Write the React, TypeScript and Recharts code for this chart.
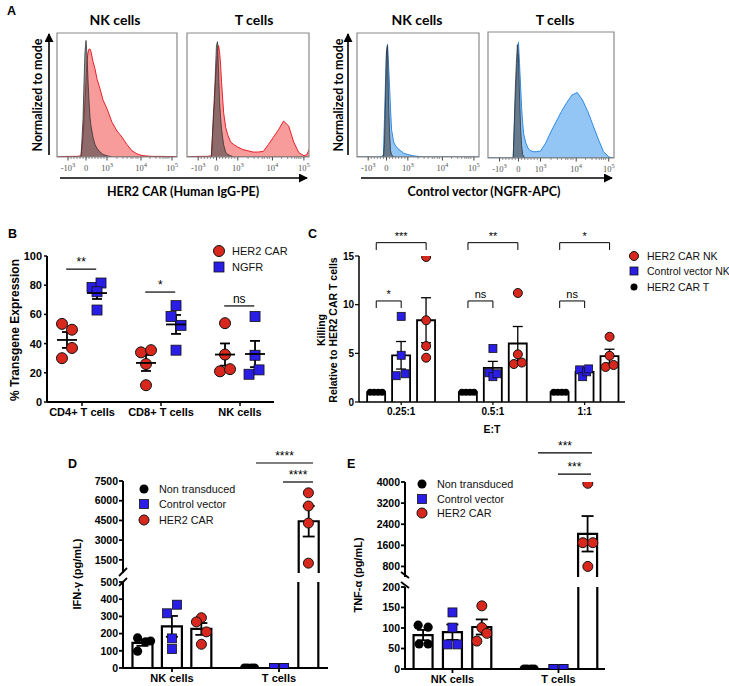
import React from "react";
import {
  AreaChart,
  Area,
  XAxis,
  YAxis,
  ReferenceArea,
  ScatterChart,
  Scatter,
  ErrorBar,
  ComposedChart,
  Bar,
  ReferenceLine,
  Legend,
} from "recharts";

const FONT = "'Liberation Sans', Arial, Helvetica, sans-serif";
const FONT_A = "Lato, 'Open Sans', 'Liberation Sans', sans-serif";
const SERIF = "'Liberation Serif', 'DejaVu Serif', serif";
const RED = "#d8281d";
const BLUE = "#2a1ee6";
const RED_FILL = "#f79b9b";
const RED_LINE = "#e8202a";
const BLUE_FILL = "#93c5f5";
const BLUE_LINE = "#2d8ae5";

// ---------------- Panel A (flow histograms) ----------------
const flowChannels = [0, 10, 20, 24, 26, 27, 28, 29, 30, 31, 32, 33, 34, 36, 38, 40, 43, 46, 50, 55, 60, 65, 70, 75, 80, 85, 90, 95, 100, 105, 110, 115, 118, 120];
const flowMajorTicks = [11, 29, 50, 84, 115];
const flowTickLabels = ["-10^3", "0", "10^3", "10^4", "10^5"];
const flowMinorTicks = [14, 17, 20, 23, 26, 32, 35, 38, 41, 44, 47, 60, 66, 70, 74, 76, 79, 81, 93, 99, 103, 106, 108, 110, 112];

const her2NkIsotype = [0, 0, 0, 0, 0.3, 0.6, 0.85, 0.94, 0.82, 0.62, 0.45, 0.32, 0.25, 0.16, 0.1, 0.07, 0.04, 0.02, 0.01, 0, 0, 0, 0, 0, 0, 0, 0, 0, 0, 0, 0, 0, 0, 0];
const her2NkStained = [0, 0.005, 0.005, 0.01, 0.15, 0.3, 0.45, 0.6, 0.78, 0.84, 0.87, 0.87, 0.85, 0.77, 0.71, 0.63, 0.55, 0.46, 0.39, 0.28, 0.21, 0.16, 0.1, 0.05, 0.025, 0.012, 0.008, 0.005, 0.005, 0.005, 0.004, 0.004, 0.003, 0.003];
const her2TIsotype = [0, 0, 0, 0, 0.35, 0.45, 0.7, 0.9, 0.93, 0.7, 0.45, 0.32, 0.22, 0.1, 0.04, 0.02, 0.01, 0, 0, 0, 0, 0, 0, 0, 0, 0, 0, 0, 0, 0, 0, 0, 0, 0];
const her2TStained = [0, 0.005, 0.005, 0.01, 0.3, 0.5, 0.62, 0.72, 0.85, 0.9, 0.85, 0.75, 0.6, 0.36, 0.24, 0.18, 0.12, 0.1, 0.08, 0.06, 0.05, 0.04, 0.04, 0.045, 0.1, 0.16, 0.22, 0.29, 0.25, 0.12, 0.035, 0.01, 0.02, 0.06];
const ngfrNkIsotype = [0, 0, 0, 0, 0, 0.1, 0.45, 0.85, 0.9, 0.45, 0.2, 0.05, 0.02, 0, 0, 0, 0, 0, 0, 0, 0, 0, 0, 0, 0, 0, 0, 0, 0, 0, 0, 0, 0, 0];
const ngfrNkStained = [0, 0, 0, 0, 0.02, 0.3, 0.6, 0.85, 0.91, 0.75, 0.58, 0.38, 0.22, 0.12, 0.09, 0.07, 0.05, 0.03, 0.02, 0.01, 0.005, 0, 0, 0, 0, 0, 0, 0, 0, 0, 0, 0, 0, 0];
const ngfrTIsotype = [0, 0, 0, 0, 0.55, 0.75, 0.9, 0.8, 0.5, 0.25, 0.1, 0.03, 0.01, 0, 0, 0, 0, 0, 0, 0, 0, 0, 0, 0, 0, 0, 0, 0, 0, 0, 0, 0, 0, 0];
const ngfrTStained = [0, 0, 0, 0, 0.45, 0.62, 0.8, 0.92, 0.75, 0.58, 0.4, 0.28, 0.19, 0.12, 0.08, 0.06, 0.05, 0.05, 0.055, 0.12, 0.21, 0.29, 0.37, 0.44, 0.5, 0.52, 0.46, 0.37, 0.26, 0.15, 0.05, 0.01, 0, 0];

// ---------------- Panel B ----------------
const bCellTypes = ["CD4+ T cells", "CD8+ T cells", "NK cells"];
const bHer2Car = [[53.5, 49.5, 37, 30], [34, 35.5, 26, 11.5], [54, 32.5, 21, 22.5]];
const bNgfr = [[78.5, 81.5, 75.5, 63], [58.5, 66, 52.5, 35.5], [58.5, 32, 19, 22]];
const bSignif = ["**", "*", "ns"];

// ---------------- Panel C ----------------
const cRatios = ["0.25:1", "0.5:1", "1:1"];
const cHer2CarT = [[1, 1, 1, 1], [1, 1, 1, 1], [1, 1, 1, 1]];
const cControlNk = [[8.8, 4.8, 2.7, 2.9], [5.5, 3.0, 2.6, 2.9], [3.3, 2.6, 3.1, 3.4]];
const cHer2CarNk = [[14.9, 8.4, 5.75, 4.55], [11.2, 4.9, 3.9, 4.05], [6.7, 4.75, 3.6, 3.8]];
const cSignifTop = ["***", "**", "*"];
const cSignifLow = ["*", "ns", "ns"];

// ---------------- Panel D (IFN-gamma) ----------------
const dGroups = ["NK cells", "T cells"];
const dNonTransduced = [[175, 152, 157, 98], [0, 0, 0, 0]];
const dControlVector = [[368, 318, 172, 110], [0, 0, 0, 0]];
const dHer2Car = [[292, 268, 210, 138], [6600, 5600, 4300, 1250]];
const dSignif = ["****", "****"];

// ---------------- Panel E (TNF-alpha) ----------------
const eGroups = ["NK cells", "T cells"];
const eNonTransduced = [[107, 102, 61, 61], [0, 0, 0, 0]];
const eControlVector = [[138, 101, 60, 60], [0, 0, 0, 0]];
const eHer2Car = [[154, 101, 87, 68], [3950, 1700, 1700, 800]];
const eSignif = ["***", "***"];

// ---------------- helpers ----------------
const mean = (a: number[]) => a.reduce((s, v) => s + v, 0) / a.length;
const sem = (a: number[]) => {
  const m = mean(a);
  const sd = Math.sqrt(a.reduce((s, v) => s + (v - m) * (v - m), 0) / (a.length - 1));
  return sd / Math.sqrt(a.length);
};

const redCircle = (r: number) => (p: any) =>
  p.cx == null ? <g /> : <circle cx={p.cx} cy={p.cy} r={r} fill={RED} stroke="#111" strokeWidth={1} />;
const blueSquare = (s: number) => (p: any) =>
  p.cx == null ? <g /> : <rect x={p.cx - s / 2} y={p.cy - s / 2} width={s} height={s} fill={BLUE} stroke="#111" strokeWidth={0.8} />;
const blackDot = (r: number) => (p: any) =>
  p.cx == null ? <g /> : <circle cx={p.cx} cy={p.cy} r={r} fill="#000" />;

// open (white) bar of a fixed pixel width, centred on the band the library computes
const openBar = (sw: number, bw: number) => (p: any) => {
  const { x, y, width, height, background } = p;
  if (x == null || y == null || !height || Math.abs(height) < 0.5) return <g />;
  const cx = x + (width || 0) / 2;
  const x0 = cx - bw / 2;
  const x1 = cx + bw / 2;
  const top = Math.min(y, y + height);
  const bottom = Math.max(y, y + height);
  const clipTop = background && background.y != null ? background.y : -1e9;
  const clipped = top < clipTop - 0.5;
  const yt = clipped ? clipTop : top;
  const d = clipped
    ? `M${x0},${bottom} L${x0},${yt} M${x1},${yt} L${x1},${bottom}`
    : `M${x0},${bottom} L${x0},${yt} L${x1},${yt} L${x1},${bottom}`;
  return <path d={d} fill="#fff" stroke="#000" strokeWidth={sw} />;
};

type Kind = "red" | "blue" | "black";
const LegendMarker = ({ kind, size }: { kind: Kind; size: number }) => {
  const c = 7;
  if (kind === "red") return <circle cx={c} cy={c} r={size / 2} fill={RED} stroke="#111" strokeWidth={1} />;
  if (kind === "blue") return <rect x={c - size / 2} y={c - size / 2} width={size} height={size} fill={BLUE} stroke="#111" strokeWidth={0.8} />;
  return <circle cx={c} cy={c} r={size / 2} fill="#000" />;
};

const LegendBox = ({ items, fontSize, rowH, gap }: any) => (
  <div style={{ fontFamily: FONT, fontSize, color: "#111", whiteSpace: "nowrap" }}>
    {items.map((it: any) => (
      <div key={it.label} style={{ display: "flex", alignItems: "center", height: rowH }}>
        <svg width={14} height={14} style={{ flex: "none", overflow: "visible" }}>
          <LegendMarker kind={it.kind} size={it.size} />
        </svg>
        <span style={{ marginLeft: gap }}>{it.label}</span>
      </div>
    ))}
  </div>
);

type Bracket = { x1: number; x2: number; y: number; drop?: number; label: string };
const bracketLines = (brs: Bracket[], prefix: string, fontSize: number, sw: number) => {
  const out: any[] = [];
  brs.forEach((b, i) => {
    out.push(
      <ReferenceLine
        key={`${prefix}h${i}`}
        segment={[{ x: b.x1, y: b.y }, { x: b.x2, y: b.y }]}
        stroke="#000"
        strokeWidth={sw}
        ifOverflow="visible"
        label={{ value: b.label, position: "top", offset: 3, fontSize, fill: "#000", fontFamily: FONT }}
      />
    );
    if (b.drop) {
      out.push(
        <ReferenceLine key={`${prefix}l${i}`} segment={[{ x: b.x1, y: b.y }, { x: b.x1, y: b.y - b.drop }]} stroke="#000" strokeWidth={sw} ifOverflow="visible" />,
        <ReferenceLine key={`${prefix}r${i}`} segment={[{ x: b.x2, y: b.y }, { x: b.x2, y: b.y - b.drop }]} stroke="#000" strokeWidth={sw} ifOverflow="visible" />
      );
    }
  });
  return out;
};

// ---------------- Panel A component ----------------
const FlowTick = (props: any) => {
  const { x, y, payload } = props;
  const idx = flowMajorTicks.indexOf(payload.value);
  if (idx < 0) return <line x1={x} x2={x} y1={y} y2={y + 2} stroke="#777" strokeWidth={0.8} />;
  const [base, exp] = flowTickLabels[idx].split("^");
  return (
    <g>
      <line x1={x} x2={x} y1={y} y2={y + 3.5} stroke="#444" strokeWidth={1} />
      <text x={x} y={y + 14} textAnchor="middle" fontSize={8.5} fill="#555" fontFamily={SERIF}>
        {base}
        {exp ? (
          <tspan dy={-4} fontSize={6.5}>
            {exp}
          </tspan>
        ) : null}
      </text>
    </g>
  );
};

function HistBox({ left, top, w, h, stained, isotype, fill, stroke }: any) {
  const data = flowChannels.map((ch, i) => ({ ch, s: stained[i], c: isotype[i] }));
  return (
    <div style={{ position: "absolute", left: left - 2, top: top - 2 }}>
      <AreaChart width={w + 4} height={h + 4 + 24} data={data} margin={{ top: 2, right: 2, bottom: 0, left: 2 }}>
        <XAxis
          dataKey="ch"
          type="number"
          domain={[0, 120]}
          ticks={[...flowMajorTicks, ...flowMinorTicks]}
          interval={0}
          tick={(p: any) => <FlowTick {...p} />}
          tickSize={0}
          tickMargin={0}
          tickLine={false}
          axisLine={false}
          height={24}
          allowDataOverflow
        />
        <YAxis hide type="number" domain={[0, 1]} allowDataOverflow />
        <Area dataKey="s" type="linear" fill={fill} fillOpacity={1} stroke={stroke} strokeWidth={1} isAnimationActive={false} dot={false} activeDot={false} />
        <Area dataKey="c" type="linear" fill="#4a4a4a" fillOpacity={0.6} stroke="#333" strokeWidth={0.8} isAnimationActive={false} dot={false} activeDot={false} />
        <ReferenceArea x1={0} x2={120} y1={0} y2={1} fill="none" fillOpacity={0} stroke="#8a8a8a" strokeWidth={1.2} ifOverflow="visible" />
      </AreaChart>
    </div>
  );
}

// ---------------- Panel B component ----------------
const B_PX = 79;
const B_OFF = 0.19;
const bHerJit = [[-5, 5, 5, -5], [-5, 5, 0, 0], [0, 0, -5, 5]];
const bNgfrJit = [[-5, 4, 0, 0], [-5, 0, 5, 0], [0, 0, -6, 4]];
const bBracketY = [91, 75.3, 65.8];

function PanelB() {
  const herPts: any[] = [];
  const ngfrPts: any[] = [];
  const means: any[] = [];
  bCellTypes.forEach((_, g) => {
    bHer2Car[g].forEach((v, i) => herPts.push({ x: g - B_OFF + bHerJit[g][i] / B_PX, y: v }));
    bNgfr[g].forEach((v, i) => ngfrPts.push({ x: g + B_OFF + bNgfrJit[g][i] / B_PX, y: v }));
    means.push({ x: g - B_OFF, y: mean(bHer2Car[g]), sem: sem(bHer2Car[g]) });
    means.push({ x: g + B_OFF, y: mean(bNgfr[g]), sem: sem(bNgfr[g]) });
  });
  const brs: Bracket[] = bSignif.map((s, g) => ({ x1: g - B_OFF - 0.01, x2: g + B_OFF - 0.01, y: bBracketY[g], label: s }));
  const meanLine = (p: any) =>
    p.cx == null ? <g /> : <line x1={p.cx - 10} x2={p.cx + 10} y1={p.cy} y2={p.cy} stroke="#000" strokeWidth={1.8} />;
  const tickStyle = { fontSize: 11, fontWeight: 700, fill: "#000", fontFamily: FONT };
  return (
    <div style={{ position: "absolute", left: 0, top: 246 }}>
      <ScatterChart width={290} height={176} margin={{ top: 10, right: 16, bottom: 0, left: 0 }}>
        <XAxis
          dataKey="x"
          type="number"
          domain={[-0.443, 2.43]}
          ticks={[0, 1, 2]}
          interval={0}
          tickFormatter={(v: number) => bCellTypes[v]}
          tick={tickStyle}
          tickSize={4}
          tickMargin={2}
          axisLine={{ stroke: "#000", strokeWidth: 2 }}
          tickLine={{ stroke: "#000", strokeWidth: 1.5 }}
          height={20}
          allowDataOverflow
        />
        <YAxis
          type="number"
          domain={[0, 100]}
          ticks={[0, 20, 40, 60, 80, 100]}
          width={47}
          tick={tickStyle}
          tickSize={3}
          tickMargin={2}
          axisLine={{ stroke: "#000", strokeWidth: 2 }}
          tickLine={{ stroke: "#000", strokeWidth: 1.5 }}
          allowDataOverflow
        />
        {bracketLines(brs, "b", 12, 1.2)}
        <Scatter data={herPts} dataKey="y" shape={redCircle(5.5)} isAnimationActive={false} />
        <Scatter data={ngfrPts} dataKey="y" shape={blueSquare(10)} isAnimationActive={false} />
        <Scatter data={means} dataKey="y" shape={meanLine} isAnimationActive={false}>
          <ErrorBar dataKey="sem" direction="y" width={5} stroke="#000" strokeWidth={1.8} />
        </Scatter>
        <Legend
          layout="horizontal"
          verticalAlign="middle"
          align="center"
          wrapperStyle={{ left: 212, top: -3, width: "auto" }}
          content={() => (
            <LegendBox
              fontSize={11}
              rowH={16}
              gap={6}
              items={[
                { label: "HER2 CAR", kind: "red", size: 11 },
                { label: "NGFR", kind: "blue", size: 10 },
              ]}
            />
          )}
        />
      </ScatterChart>
    </div>
  );
}

// ---------------- Panel C component ----------------
const C_PX = 91.75;
const C_OFF = 0.272;
const cJitT = [[-6, -2, 2, 6], [-6, -2, 2, 6], [-6, -2, 2, 6]];
const cJitCv = [[0, 0, -5, 4], [0, -4, 0, 4], [-5, -2, 2, 4]];
const cJitCar = [[0, 0, 0, 0], [0, 0, -4, 4], [0, 0, -4, 4]];

function PanelC() {
  const bars: any[] = [];
  const tPts: any[] = [];
  const cvPts: any[] = [];
  const carPts: any[] = [];
  const sets: any[] = [
    [cHer2CarT, -C_OFF, tPts, cJitT],
    [cControlNk, 0, cvPts, cJitCv],
    [cHer2CarNk, C_OFF, carPts, cJitCar],
  ];
  cRatios.forEach((_, g) => {
    sets.forEach(([set, off, arr, jit]) => {
      const vals: number[] = set[g];
      const e = sem(vals);
      bars.push({ x: g + off, mean: mean(vals), sem: e > 0 ? e : null });
      vals.forEach((v, i) => arr.push({ x: g + off + jit[g][i] / C_PX, y: v }));
    });
  });
  const brs: Bracket[] = [
    ...cSignifTop.map((s, g) => ({ x1: g - C_OFF, x2: g + C_OFF, y: 16.37, drop: 0.75, label: s })),
    ...cSignifLow.map((s, g) => ({ x1: g - C_OFF, x2: g, y: 10.38, drop: 0.72, label: s })),
  ];
  const tickStyle = { fontSize: 10, fontWeight: 700, fill: "#000", fontFamily: FONT };
  return (
    <div style={{ position: "absolute", left: 300, top: 226 }}>
      <ComposedChart width={429} height={212} data={bars} margin={{ top: 30, right: 104, bottom: 0, left: 0 }}>
        <XAxis
          dataKey="x"
          type="number"
          domain={[-0.46, 2.44]}
          ticks={[0, 1, 2]}
          interval={0}
          tickFormatter={(v: number) => cRatios[v]}
          tick={tickStyle}
          tickSize={3}
          tickMargin={3}
          axisLine={{ stroke: "#000", strokeWidth: 1.5 }}
          tickLine={{ stroke: "#000", strokeWidth: 1.2 }}
          height={36}
          allowDataOverflow
          label={{ value: "E:T", position: "insideBottom", offset: 5, fontSize: 10.5, fontWeight: 700, fill: "#000", fontFamily: FONT }}
        />
        <YAxis
          type="number"
          domain={[0, 15]}
          ticks={[0, 5, 10, 15]}
          width={59}
          tick={tickStyle}
          tickSize={4}
          tickMargin={1}
          axisLine={{ stroke: "#000", strokeWidth: 1.5 }}
          tickLine={{ stroke: "#000", strokeWidth: 1.2 }}
          allowDataOverflow
        />
        <Bar dataKey="mean" barSize={18} shape={openBar(1.8, 18)} isAnimationActive={false}>
          <ErrorBar dataKey="sem" direction="y" width={5} stroke="#000" strokeWidth={1.3} />
        </Bar>
        <Scatter data={tPts} dataKey="y" shape={blackDot(3.5)} isAnimationActive={false} />
        <Scatter data={cvPts} dataKey="y" shape={blueSquare(8)} isAnimationActive={false} />
        <Scatter data={carPts} dataKey="y" shape={redCircle(4.5)} isAnimationActive={false} />
        {bracketLines(brs, "c", 11, 1)}
        <Legend
          layout="horizontal"
          verticalAlign="middle"
          align="center"
          wrapperStyle={{ left: 327, top: 22, width: "auto" }}
          content={() => (
            <LegendBox
              fontSize={10.5}
              rowH={15.5}
              gap={6}
              items={[
                { label: "HER2 CAR NK", kind: "red", size: 9 },
                { label: "Control vector NK", kind: "blue", size: 8 },
                { label: "HER2 CAR T", kind: "black", size: 7 },
              ]}
            />
          )}
        />
      </ComposedChart>
    </div>
  );
}

// ---------------- Panels D & E ----------------
function buildCyto(nt: number[][], cv: number[][], car: number[][], jit: number[][][], px: number, off: number) {
  const sets = [nt, cv, car];
  const offs = [-off, 0, off];
  const bars: any[] = [];
  const pts: any[][] = [[], [], []];
  for (let g = 0; g < 2; g++) {
    for (let s = 0; s < 3; s++) {
      const vals = sets[s][g];
      bars.push({ x: g + offs[s], mean: mean(vals), sem: sem(vals) });
      vals.forEach((v, i) => pts[s].push({ x: g + offs[s] + jit[s][g][i] / px, y: v }));
    }
  }
  return { bars, pts };
}

function CytoPanel(cfg: any) {
  const { left, upperTop, upperH, lowerTop, lowerH, width, xDomain, brk, upperDomain, upperTicks, lowerDomain, lowerTicks, groups, built, brackets, legendPos, legendRow, yWidth, barW } = cfg;
  const { bars, pts } = built;
  const upperBars = bars.map((b: any) => ({ x: b.x, mean: b.mean > brk ? b.mean : null, sem: b.mean > brk ? b.sem : null }));
  const lowerBars = bars.map((b: any) => ({ x: b.x, mean: b.mean, sem: b.mean <= brk && b.sem > 0 ? b.sem : null }));
  const upPts = pts.map((arr: any[]) => arr.filter((p) => p.y > brk));
  const lowPts = pts.map((arr: any[]) => arr.filter((p) => p.y <= brk));
  const shapes = [blackDot(4.6), blueSquare(9), redCircle(5)];
  const tickStyle = { fontSize: 10.5, fontWeight: 700, fill: "#000", fontFamily: FONT };
  const axisProps = {
    axisLine: { stroke: "#000", strokeWidth: 2 },
    tickLine: { stroke: "#000", strokeWidth: 1.8 },
  };
  return (
    <>
      <div style={{ position: "absolute", left, top: upperTop }}>
        <ComposedChart width={width} height={upperH} data={upperBars} margin={{ top: 55, right: 12, bottom: 0, left: 0 }}>
          <XAxis dataKey="x" type="number" domain={xDomain} hide allowDataOverflow />
          <YAxis type="number" domain={upperDomain} ticks={upperTicks} width={yWidth} tick={tickStyle} tickSize={4} tickMargin={1} allowDataOverflow {...axisProps} />
          <Bar dataKey="mean" barSize={barW} shape={openBar(2.2, barW)} isAnimationActive={false}>
            <ErrorBar dataKey="sem" direction="y" width={6} stroke="#000" strokeWidth={1.8} />
          </Bar>
          {upPts.map((arr: any[], s: number) => (
            <Scatter key={`u${s}`} data={arr} dataKey="y" shape={shapes[s]} isAnimationActive={false} />
          ))}
          {bracketLines(brackets, "u", 12, 1.2)}
          <Legend
            layout="horizontal"
            verticalAlign="middle"
            align="center"
            wrapperStyle={{ left: legendPos[0], top: legendPos[1], width: "auto" }}
            content={() => (
              <LegendBox
                fontSize={10.8}
                rowH={legendRow}
                gap={8}
                items={[
                  { label: "Non transduced", kind: "black", size: 9 },
                  { label: "Control vector", kind: "blue", size: 9 },
                  { label: "HER2 CAR", kind: "red", size: 10 },
                ]}
              />
            )}
          />
        </ComposedChart>
      </div>
      <div style={{ position: "absolute", left, top: lowerTop }}>
        <ComposedChart width={width} height={lowerH} data={lowerBars} margin={{ top: 10, right: 12, bottom: 0, left: 0 }}>
          <XAxis
            dataKey="x"
            type="number"
            domain={xDomain}
            ticks={[0, 1]}
            interval={0}
            tickFormatter={(v: number) => groups[v]}
            tick={{ ...tickStyle, fontSize: 11 }}
            tickSize={4}
            tickMargin={2}
            height={22}
            allowDataOverflow
            {...axisProps}
          />
          <YAxis type="number" domain={lowerDomain} ticks={lowerTicks} width={yWidth} tick={tickStyle} tickSize={4} tickMargin={1} allowDataOverflow {...axisProps} />
          <Bar dataKey="mean" barSize={barW} shape={openBar(2.2, barW)} isAnimationActive={false}>
            <ErrorBar dataKey="sem" direction="y" width={6} stroke="#000" strokeWidth={1.8} />
          </Bar>
          {lowPts.map((arr: any[], s: number) => (
            <Scatter key={`l${s}`} data={arr} dataKey="y" shape={shapes[s]} isAnimationActive={false} />
          ))}
        </ComposedChart>
      </div>
    </>
  );
}

const D_PX = 107;
const D_OFF = 0.275;
const dJit = [
  [[-5, 3, 8, -5], [-5, -2, 2, 5]],
  [[5, -5, 0, 0], [-5, -5, 5, 5]],
  [[0, -5, 5, 0], [0, 0, 0, 0]],
];
const E_PX = 106;
const E_OFF = 0.277;
const eJit = [
  [[-5, 5, -4, 5], [-5, -2, 2, 5]],
  [[0, 0, -5, 5], [-5, -5, 5, 5]],
  [[0, 0, 5, -5], [0, -5, 5, 0]],
];

function PanelD() {
  const built = buildCyto(dNonTransduced, dControlVector, dHer2Car, dJit, D_PX, D_OFF);
  const brackets: Bracket[] = [
    { x1: 0.785, x2: 1.318, y: 8870, label: dSignif[0] },
    { x1: 1.037, x2: 1.318, y: 7424, label: dSignif[1] },
  ];
  return (
    <CytoPanel
      left={63}
      upperTop={426}
      upperH={147}
      lowerTop={572}
      lowerH={118}
      width={277}
      yWidth={60}
      barW={20}
      xDomain={[-0.458, 1.458]}
      brk={500}
      upperDomain={[500, 7500]}
      upperTicks={[1500, 3000, 4500, 6000, 7500]}
      lowerDomain={[0, 500]}
      lowerTicks={[0, 100, 200, 300, 400, 500]}
      groups={dGroups}
      built={built}
      brackets={brackets}
      legendPos={[74, 55]}
      legendRow={15.5}
    />
  );
}

function PanelE() {
  const built = buildCyto(eNonTransduced, eControlVector, eHer2Car, eJit, E_PX, E_OFF);
  const brackets: Bracket[] = [
    { x1: 0.807, x2: 1.316, y: 5100, label: eSignif[0] },
    { x1: 0.995, x2: 1.307, y: 4300, label: eSignif[1] },
  ];
  return (
    <CytoPanel
      left={345}
      upperTop={427}
      upperH={150}
      lowerTop={577}
      lowerH={114}
      width={272}
      yWidth={60}
      barW={19}
      xDomain={[-0.448, 1.439]}
      brk={200}
      upperDomain={[400, 4000]}
      upperTicks={[800, 1600, 2400, 3200, 4000]}
      lowerDomain={[0, 200]}
      lowerTicks={[0, 50, 100, 150, 200]}
      groups={eGroups}
      built={built}
      brackets={brackets}
      legendPos={[70, 50]}
      legendRow={14.5}
    />
  );
}

// ---------------- overlay text / arrows ----------------
function Overlay() {
  const bold = { fontFamily: FONT, fontWeight: 700, fill: "#000" } as any;
  const boldA = { fontFamily: FONT_A, fontWeight: 700, fill: "#000" } as any;
  const vtext = (x: number, y: number, s: string, size: number, st: any = bold) => (
    <text transform={`translate(${x},${y}) rotate(-90)`} textAnchor="middle" dominantBaseline="central" fontSize={size} {...st}>
      {s}
    </text>
  );
  return (
    <svg width={729} height={686} style={{ position: "absolute", left: 0, top: 0, pointerEvents: "none" }}>
      <defs>
        <marker id="arrowHead" markerWidth="9" markerHeight="9" refX="8" refY="4.5" orient="auto" markerUnits="userSpaceOnUse">
          <path d="M0,0 L9,4.5 L0,9 z" fill="#000" />
        </marker>
      </defs>
      {/* panel letters */}
      <text x={7} y={15} fontSize={12.5} {...bold}>A</text>
      <text x={8} y={238} fontSize={12.5} {...bold}>B</text>
      <text x={308} y={238} fontSize={12.5} {...bold}>C</text>
      <text x={68} y={468} fontSize={12.5} {...bold}>D</text>
      <text x={347} y={468} fontSize={12.5} {...bold}>E</text>
      {/* panel A titles */}
      <text x={115} y={25} textAnchor="middle" fontSize={14} {...boldA}>NK cells</text>
      <text x={254} y={25} textAnchor="middle" fontSize={14} {...boldA}>T cells</text>
      <text x={417} y={25} textAnchor="middle" fontSize={14} {...boldA}>NK cells</text>
      <text x={555} y={25} textAnchor="middle" fontSize={14} {...boldA}>T cells</text>
      {vtext(37, 95, "Normalized to mode", 12.5, boldA)}
      {vtext(338, 95, "Normalized to mode", 12.5, boldA)}
      <line x1={49} y1={155} x2={49} y2={34} stroke="#000" strokeWidth={1.6} markerEnd="url(#arrowHead)" />
      <line x1={348} y1={155} x2={348} y2={34} stroke="#000" strokeWidth={1.6} markerEnd="url(#arrowHead)" />
      <line x1={60} y1={178} x2={307} y2={178} stroke="#000" strokeWidth={1.6} markerEnd="url(#arrowHead)" />
      <line x1={361} y1={178} x2={612} y2={178} stroke="#000" strokeWidth={1.6} markerEnd="url(#arrowHead)" />
      <text x={183} y={196} textAnchor="middle" fontSize={12.5} {...boldA}>HER2 CAR (Human IgG-PE)</text>
      <text x={484} y={196} textAnchor="middle" fontSize={12.5} {...boldA}>Control vector (NGFR-APC)</text>
      {/* axis titles */}
      {vtext(15, 330, "% Transgene Expression", 12)}
      {vtext(321, 330, "Killing", 10.5)}
      {vtext(333, 330, "Relative to HER2 CAR T cells", 10.5)}
      {vtext(77, 574, "IFN-\u03b3 (pg/mL)", 11)}
      {vtext(358, 575, "TNF-\u03b1 (pg/mL)", 11)}
      {/* axis break marks */}
      <line x1={119} y1={576} x2={127} y2={568} stroke="#000" strokeWidth={1.8} />
      <line x1={119} y1={586} x2={127} y2={578} stroke="#000" strokeWidth={1.8} />
      <line x1={401} y1={572} x2={409} y2={578} stroke="#000" strokeWidth={1.8} />
      <line x1={401} y1={582} x2={409} y2={588} stroke="#000" strokeWidth={1.8} />
    </svg>
  );
}

export default function App() {
  return (
    <div style={{ position: "absolute", left: 0, top: 0, width: 729, height: 686, background: "#fff", overflow: "hidden", fontFamily: FONT }}>
      <HistBox left={57} top={33} w={120} h={122} stained={her2NkStained} isotype={her2NkIsotype} fill={RED_FILL} stroke={RED_LINE} />
      <HistBox left={187} top={33} w={122} h={122} stained={her2TStained} isotype={her2TIsotype} fill={RED_FILL} stroke={RED_LINE} />
      <HistBox left={357} top={33} w={122} h={122} stained={ngfrNkStained} isotype={ngfrNkIsotype} fill={BLUE_FILL} stroke={BLUE_LINE} />
      <HistBox left={488} top={32} w={126} h={124} stained={ngfrTStained} isotype={ngfrTIsotype} fill={BLUE_FILL} stroke={BLUE_LINE} />
      <PanelB />
      <PanelC />
      <PanelD />
      <PanelE />
      <Overlay />
    </div>
  );
}
